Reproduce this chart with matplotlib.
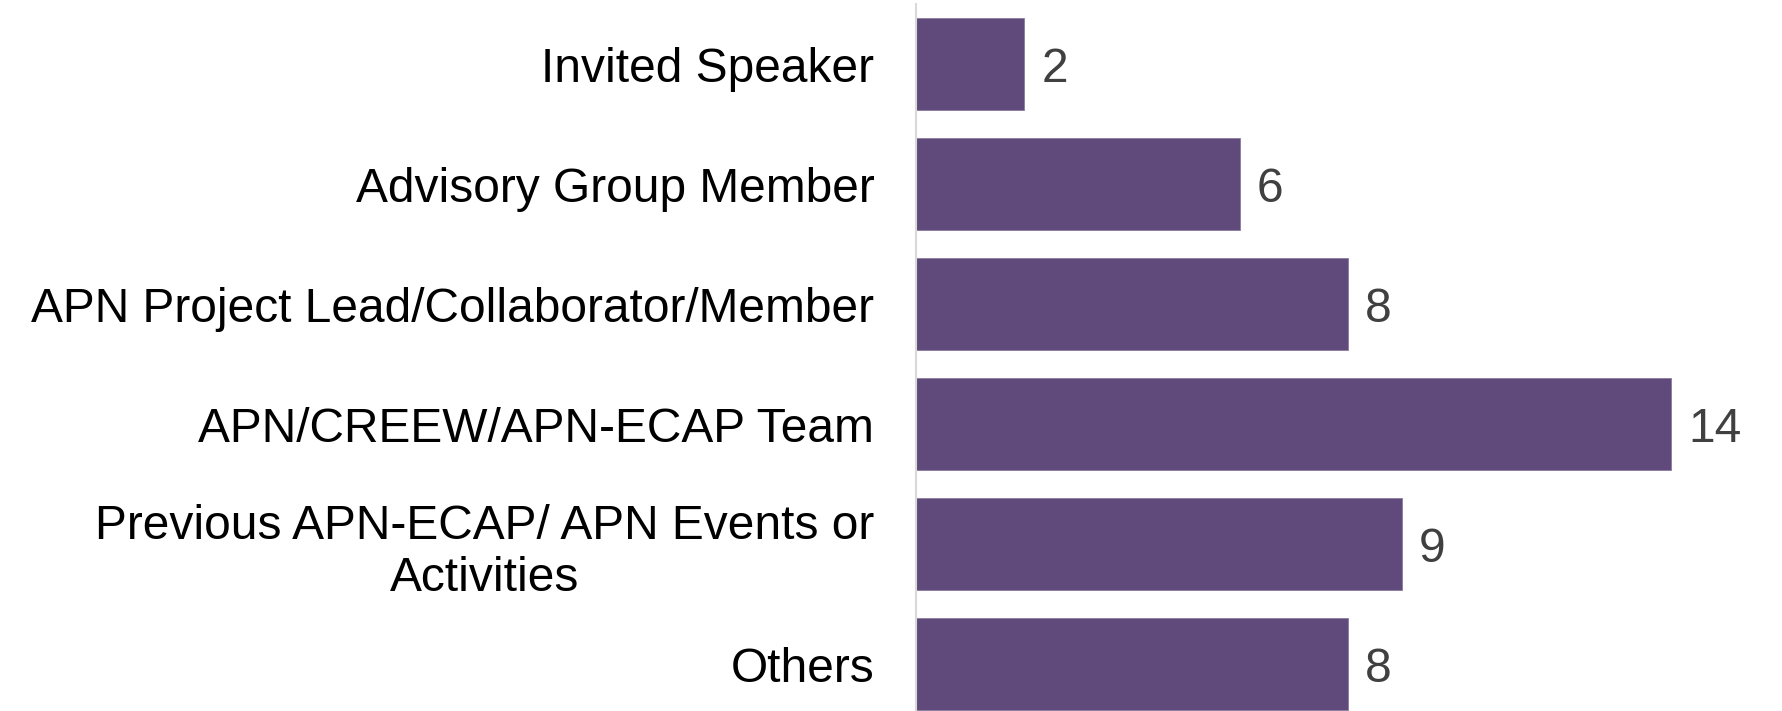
import matplotlib.pyplot as plt

categories = [
    "Invited Speaker",
    "Advisory Group Member",
    "APN Project Lead/Collaborator/Member",
    "APN/CREEW/APN-ECAP Team",
    "Previous APN-ECAP/ APN Events or\nActivities",
    "Others",
]
counts = [2, 6, 8, 14, 9, 8]

plt.rcParams["font.family"] = ["Liberation Sans", "DejaVu Sans"]

fig = plt.figure(figsize=(17.82, 7.11), dpi=100)
ax = fig.add_axes([916 / 1782, 0.0, 1 - 916 / 1782, 1 - 4 / 711])

ypos = list(range(len(categories)))
ax.barh(ypos, counts, height=0.77, color="#604a7b", edgecolor="#8a7aa0", linewidth=0.6)

# value labels next to each bar
for y, v in zip(ypos, counts):
    ax.text(v + 0.32, y, str(v), va="center_baseline", ha="left", fontsize=34.5, color="#404040")

ax.set_yticks(ypos)
ax.set_yticklabels(categories, fontsize=34.5, color="black", ha="right", multialignment="center")
ax.tick_params(axis="y", length=0, pad=30)
ax.set_xticks([])
ax.set_xlim(0, 16.05)
ax.set_ylim(5.39, -0.5)

for side in ["top", "right", "bottom"]:
    ax.spines[side].set_visible(False)
ax.spines["left"].set_color("#d9d9d9")
ax.spines["left"].set_linewidth(1.5)

fig.savefig("out.png", dpi=100)
